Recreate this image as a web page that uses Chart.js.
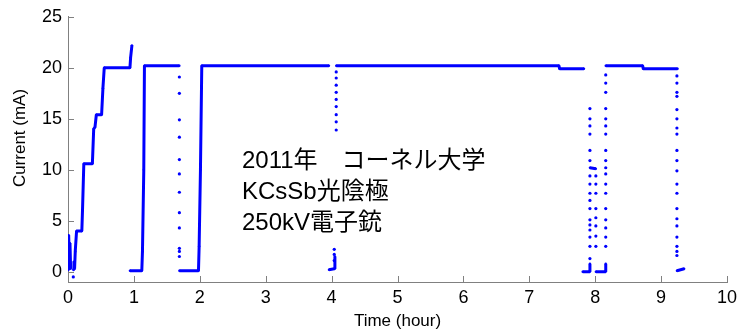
<!DOCTYPE html>
<html>
<head>
<meta charset="utf-8">
<script src="https://cdn.jsdelivr.net/npm/chart.js@4"></script>
<style>
  html, body { margin:0; padding:0; background:#fff; }
  #wrap { width:738px; height:332px; }
</style>
</head>
<body>
<div id="wrap"><canvas id="beamChart" width="738" height="332"></canvas></div>
<script>
// Beam current vs time
const xTicks = [0,1,2,3,4,5,6,7,8,9,10];
const yTicks = [0,5,10,15,20,25];

// continuous trace (null = break in the line)
const traceHours = [
  0.00, 0.01, 0.02, 0.03, 0.04, null,
  0.08, 0.09, 0.10, 0.11, 0.13, 0.21, 0.22, 0.24, 0.37, 0.39, 0.41, 0.43, 0.51, 0.53, 0.55, 0.94, 0.95, 0.97, null,
  0.94, 1.12, 1.13, 1.15, 1.16, 1.69, null,
  1.69, 1.98, 1.99, 2.01, 2.03, 3.96, null,
  3.96, 4.04, 4.05, null,
  4.07, 7.45, 7.46, 7.83, null,
  7.81, 7.91, 7.92, null,
  7.92, 8.01, null,
  8.01, 8.15, 8.16, null,
  8.16, 8.72, 8.73, 9.25, null,
  9.24, 9.35
];
const traceCurrent = [
  0.2, 3.6, 1.5, 2.8, 0.3, null,
  0.2, 1.0, 0.3, 2.0, 4.0, 4.0, 6.0, 10.6, 10.6, 14.0, 14.2, 15.4, 15.4, 18.0, 20.0, 20.0, 21.0, 22.2, null,
  0.1, 0.1, 2.0, 10.0, 20.2, 20.2, null,
  0.1, 0.1, 2.5, 10.0, 20.2, 20.2, null,
  0.2, 0.3, 1.5, null,
  20.2, 20.2, 19.9, 19.9, null,
  0.0, 0.0, 0.8, null,
  10.2, 10.1, null,
  0.0, 0.0, 0.8, null,
  20.2, 20.2, 19.9, 19.9, null,
  0.1, 0.3
];

// isolated samples, one column per time
const dotHours = [0.08, 1.69, 4.04, 4.07, 7.92, 8.01, 8.16, 9.24];
const dotCurrents = [
  [-0.5],
  [19.1, 17.5, 14.9, 13.2, 11.0, 9.6, 7.8, 5.8, 4.3, 2.3, 2.0, 1.5],
  [2.2, 1.7, 1.1],
  [19.6, 19.0, 18.3, 17.6, 16.9, 16.2, 15.4, 14.7, 13.9],
  [16.0, 15.0, 14.3, 13.5, 11.9, 10.9, 9.4, 8.6, 7.7, 7.0, 6.2, 5.1, 4.6, 4.1, 3.4, 2.5, 1.3],
  [9.4, 8.6, 7.7, 6.2, 5.3, 4.5, 3.5, 2.5],
  [19.3, 18.5, 17.6, 16.0, 15.0, 14.3, 13.5, 11.9, 10.9, 10.2, 9.6, 8.6, 7.7, 6.2, 5.1, 4.3, 3.4, 2.5],
  [19.2, 18.5, 17.6, 17.2, 15.9, 15.0, 14.1, 13.5, 11.9, 10.9, 9.9, 8.6, 7.7, 6.2, 5.2, 4.5, 3.4, 2.5, 2.0, 1.6]
];

const noteLines = ['2011年\u3000コーネル大学', 'KCsSb光陰極', '250kV電子銃'];
const xTitle = 'Time (hour)';
const yTitle = 'Current (mA)';

const BLUE = '#0000ff';
const AXIS = '#808080';
const FONT = '"Liberation Sans", Arial, sans-serif';

const tracePts = traceHours.map((h,i)=> ({x: h, y: traceCurrent[i]}));
const dotPts = [];
dotHours.forEach((h,i)=>{
  dotCurrents[i].forEach(v=> dotPts.push({x:h, y:v}));
});

// inward tick marks, axis titles and the note text
const decor = {
  id: 'decor',
  afterDraw(chart){
    const {ctx, chartArea:a, scales:{x, y}} = chart;
    ctx.save();
    ctx.strokeStyle = AXIS;
    ctx.lineWidth = 1;
    ctx.beginPath();
    xTicks.forEach(v=>{
      const px = Math.round(x.getPixelForValue(v)) + 0.5;
      ctx.moveTo(px, a.bottom); ctx.lineTo(px, a.bottom - 6);
    });
    yTicks.forEach(v=>{
      const py = Math.round(y.getPixelForValue(v)) + 0.5;
      ctx.moveTo(a.left, py); ctx.lineTo(a.left + 6, py);
    });
    ctx.stroke();

    ctx.fillStyle = '#000';
    ctx.font = '17px ' + FONT;
    ctx.textAlign = 'center';
    ctx.textBaseline = 'middle';
    ctx.fillText(xTitle, (a.left + a.right) / 2, 321);
    ctx.save();
    ctx.translate(20, 138);
    ctx.rotate(-Math.PI/2);
    ctx.fillText(yTitle, 0, 0);
    ctx.restore();

    ctx.font = '24px "Liberation Sans", Arial, "Noto Sans CJK JP", sans-serif';
    ctx.textAlign = 'left';
    ctx.textBaseline = 'alphabetic';
    const nx = x.getPixelForValue(2.64);
    [168, 199, 230].forEach((by,i)=> ctx.fillText(noteLines[i], nx, by));
    ctx.restore();
  }
};

const ctx = document.getElementById('beamChart').getContext('2d');
const chart = new Chart(ctx, {
  type: 'scatter',
  data: { datasets: [
    {data: tracePts, showLine:true, spanGaps:false, borderColor:BLUE, backgroundColor:BLUE,
     borderWidth:3, borderJoinStyle:'bevel', pointRadius:1.2, pointBorderWidth:0, tension:0},
    {data: dotPts, showLine:false, borderColor:BLUE, backgroundColor:BLUE,
     pointRadius:1.6, pointBorderWidth:0}
  ]},
  options: {
    responsive:false,
    animation:false,
    devicePixelRatio:1,
    layout:{padding:{top:15, right:0, left:0, bottom:0}},
    plugins:{legend:{display:false}, tooltip:{enabled:false}},
    scales:{
      x:{
        type:'linear', min:0, max:10,
        afterBuildTicks: s=>{ s.ticks = xTicks.map(v=>({value:v})); },
        afterFit: s=>{ s.height = 50; s.paddingRight = 11; s.paddingLeft = 0; },
        grid:{display:false, drawTicks:false},
        border:{display:true, color:AXIS, width:1},
        ticks:{color:'#000', padding:5, maxRotation:0, font:{size:18, family:FONT}}
      },
      y:{
        type:'linear', min:-1, max:25,
        afterBuildTicks: s=>{ s.ticks = yTicks.map(v=>({value:v})); },
        afterFit: s=>{ s.width = 68; },
        grid:{display:false, drawTicks:false},
        border:{display:true, color:AXIS, width:1},
        ticks:{color:'#000', padding:6, font:{size:18, family:FONT}}
      }
    }
  },
  plugins:[decor]
});
</script>
</body>
</html>
